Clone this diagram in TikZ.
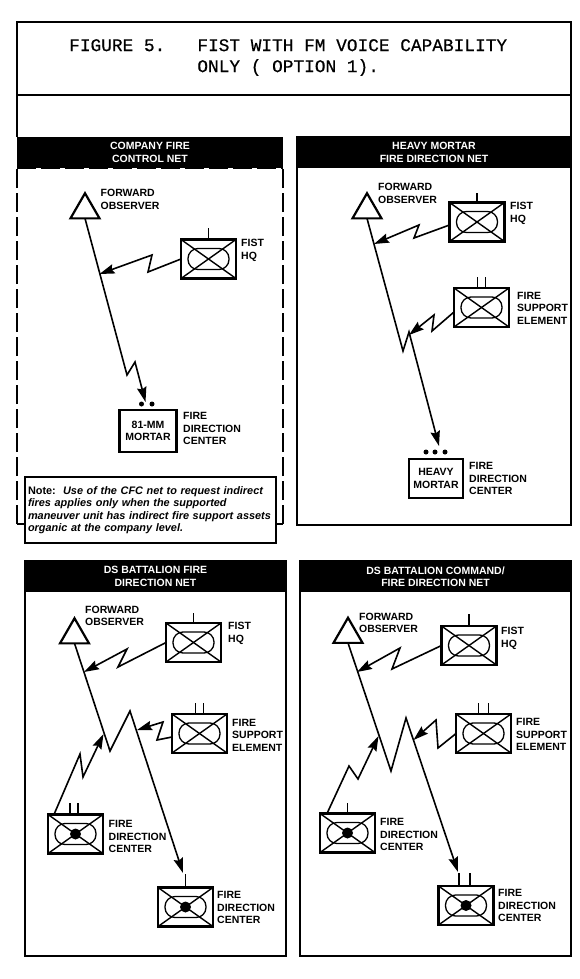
\documentclass[tikz,border=0pt]{standalone}
\usepackage{fontspec}
\setmainfont{Liberation Sans}
\newfontfamily\titlefont[FakeBold=0.5]{Liberation Mono}
\usepackage{tikz}
\usetikzlibrary{arrows.meta,positioning,shapes.geometric}
\newcommand{\UnitCross}{%
  \draw[line width=1.4pt] (path picture bounding box.south west) -- (path picture bounding box.north east);
  \draw[line width=1.4pt] (path picture bounding box.north west) -- (path picture bounding box.south east);
  \draw[line width=1.3pt, rounded corners=10pt] ([xshift=-20.5pt,yshift=-10.5pt]path picture bounding box.center) rectangle ([xshift=20.5pt,yshift=10.5pt]path picture bounding box.center);}

\begin{document}
\begin{tikzpicture}[
  x=1pt, y=-1pt,
  font=\fontsize{10.5}{12.5}\selectfont\bfseries,
  framed/.style={draw=black, line width=2pt, outer sep=0pt, inner sep=0pt, fill=white},
  panel/.style={framed, anchor=north west},
  header/.style={fill=black, text=white, align=center, outer sep=0pt, inner sep=0pt,
                 minimum height=31pt, anchor=north},
  sidedash/.style={line width=2pt, dash pattern=on 19pt off 5pt},
  observer/.style={draw=black, line width=2.2pt, regular polygon, regular polygon sides=3,
                   minimum size=33.5pt, inner sep=0pt, outer sep=0pt},
  unit/.style={framed, line width=2.4pt, minimum width=55pt, minimum height=39pt, path picture={\UnitCross}},
  fdcunit/.style={framed, line width=2.4pt, minimum width=55pt, minimum height=39pt,
                  path picture={\UnitCross \fill[black] (path picture bounding box.center) circle (5.5pt);}},
  mortar/.style={framed, line width=2.4pt, align=center},
  lbl/.style={anchor=west, align=left, inner sep=0pt},
  dotmark/.style={circle, fill=black, minimum size=5pt, inner sep=0pt},
  stub/.style={line width=1.7pt},
  radio/.style={-{Stealth[length=15pt,width=9.5pt,inset=2pt]}, line width=1.6pt, line join=miter}
]
  \useasboundingbox[fill=white] (0,0) rectangle (580,979);

  \node[framed, minimum width=554pt, minimum height=73pt, anchor=north west] (title) at (17,22) {};
  \node[lbl, font=\fontsize{17.8}{21}\selectfont\titlefont] (titletext) at (69,57.5)
    {FIGURE 5.\ \ \ FIST WITH FM VOICE CAPABILITY\\\phantom{FIGURE 5.\ \ \ }ONLY ( OPTION 1).};

  \node[anchor=north west, minimum width=266pt, minimum height=387pt, inner sep=0pt, outer sep=0pt] (net1) at (17,137) {};
  \node[panel, minimum width=274pt, minimum height=388pt] (net2) at (297,137) {};
  \node[panel, minimum width=261pt, minimum height=395pt] (net3) at (25,561) {};
  \node[panel, minimum width=271pt, minimum height=395pt] (net4) at (300,561) {};
  \draw[line width=2pt] (title.south west) -- (net1.north west);
  \draw[line width=2pt] (title.south east) -- (net2.north east);

  \node[header, minimum width=266pt] (head1) at (net1.north) {COMPANY FIRE\\CONTROL NET};
  \node[header, minimum width=274pt] (head2) at (net2.north) {HEAVY MORTAR\\FIRE DIRECTION NET};
  \node[header, minimum width=261pt] (head3) at (net3.north) {DS BATTALION FIRE\\DIRECTION NET};
  \node[header, minimum width=271pt] (head4) at (net4.north) {DS BATTALION COMMAND/\\FIRE DIRECTION NET};

  \draw[sidedash] (head1.south west) -- (head1.south east);
  \draw[sidedash] (net1.south west) -- (head1.south west);
  \draw[sidedash] (net1.south east) -- (head1.south east);
  \draw[line width=2pt] (net1.south west) -- (net1.south east);

  \node[observer] (fo1) at (85,210) {};
  \node[unit] (fist1) at (208.5,259) {};
  \node[mortar, minimum width=57pt, minimum height=42pt] (mort1) at (148,431) {81-MM\\MORTAR};
  \node[dotmark] (dot1a) at (141.5,404) {};
  \node[dotmark] (dot1b) at (152,404) {};
  \node[lbl] (fol1) at (100.5,199.5) {FORWARD\\OBSERVER};
  \node[lbl] (fisl1) at (241,250.5) {FIST\\HQ};
  \node[lbl] (fdcl1) at (183,428.5) {FIRE\\DIRECTION\\CENTER};
  \coordinate (tap1) at (99.5,274);
  \coordinate (hit1) at (145.5,402);
  \draw[stub] (fist1.north) -- ++(0,-12);
  \draw[radio] (fo1.side 2) -- (127,375) -- (135,362) -- (hit1);
  \draw[radio] (fist1.west) -- (148,272) -- (152,255) -- (tap1);

  \node[observer] (fo2) at (367,210) {};
  \node[unit] (fist2) at (477,222) {};
  \node[unit] (fse2) at (481.5,307.5) {};
  \node[mortar, minimum width=54pt, minimum height=39pt] (mort2) at (436,478.5) {HEAVY\\MORTAR};
  \node[dotmark] (dot2a) at (426,452) {};
  \node[dotmark] (dot2b) at (435,452) {};
  \node[dotmark] (dot2c) at (445,452) {};
  \node[lbl] (fol2) at (378,193.5) {FORWARD\\OBSERVER};
  \node[lbl] (fisl2) at (510,213.5) {FIST\\HQ};
  \node[lbl] (fsel2) at (517,308) {FIRE\\SUPPORT\\ELEMENT};
  \node[lbl] (fdcl2) at (469,478.5) {FIRE\\DIRECTION\\CENTER};
  \coordinate (tap2a) at (374,244);
  \coordinate (tap2b) at (409,335);
  \coordinate (hit2) at (439,446);
  \draw[stub] (fist2.north) -- ++(0,-10);
  \draw[stub] ([xshift=-4pt]fse2.north) -- ++(0,-11);
  \draw[stub] ([xshift=4pt]fse2.north) -- ++(0,-11);
  \draw[radio] (fo2.side 2) -- (403,351) -- (409,332) -- (hit2);
  \draw[radio] ([yshift=-3pt]fist2.west) -- (414,238) -- (419,225) -- (tap2a);
  \draw[radio] ([yshift=-4.5pt]fse2.west) -- (432,331) -- (434,315) -- (tap2b);

  \node[observer] (fo3) at (74.5,635) {};
  \node[unit] (fist3) at (193.5,642.5) {};
  \node[unit] (fse3) at (199.5,733.5) {};
  \node[fdcunit] (fdc3a) at (75.5,834) {};
  \node[fdcunit] (fdc3b) at (185.5,907) {};
  \node[lbl] (fol3) at (85,616) {FORWARD\\OBSERVER};
  \node[lbl] (fisl3) at (228,633.5) {FIST\\HQ};
  \node[lbl] (fsel3) at (232,735) {FIRE\\SUPPORT\\ELEMENT};
  \node[lbl] (fdcl3a) at (108.5,836.5) {FIRE\\DIRECTION\\CENTER};
  \node[lbl] (fdcl3b) at (217,907.5) {FIRE\\DIRECTION\\CENTER};
  \coordinate (tap3a) at (84,672);
  \coordinate (tap3b) at (137,730);
  \coordinate (tap3c) at (103.5,734);
  \coordinate (hit3) at (183,873);
  \draw[stub] (fist3.north) -- ++(0,-10);
  \draw[stub] ([xshift=-4pt]fse3.north) -- ++(0,-11);
  \draw[stub] ([xshift=4pt]fse3.north) -- ++(0,-11);
  \draw[stub] ([xshift=-5.5pt]fdc3a.north) -- ++(0,-12);
  \draw[stub] ([xshift=2.5pt]fdc3a.north) -- ++(0,-12);
  \draw[stub] (fdc3b.north) -- ++(0,-14);
  \draw[radio] (fo3.side 2) -- (110,751) -- (130,711) -- (hit3);
  \draw[radio] (fist3.west) -- (118,667) -- (127,649) -- (tap3a);
  \draw[radio] ([yshift=-3.5pt]fse3.west) -- (157,740) -- (163,722) -- (tap3b);
  \draw[radio] ([xshift=6pt]fdc3a.north west) -- (80,754) -- (83,777) -- (tap3c);

  \node[observer] (fo4) at (348,634.5) {};
  \node[unit] (fist4) at (469,645.5) {};
  \node[unit] (fse4) at (483.5,733.5) {};
  \node[fdcunit] (fdc4a) at (347.5,833) {};
  \node[fdcunit] (fdc4b) at (466,905.5) {};
  \node[lbl] (fol4) at (359,623) {FORWARD\\OBSERVER};
  \node[lbl] (fisl4) at (501,638.5) {FIST\\HQ};
  \node[lbl] (fsel4) at (516,734.5) {FIRE\\SUPPORT\\ELEMENT};
  \node[lbl] (fdcl4a) at (380,834.5) {FIRE\\DIRECTION\\CENTER};
  \node[lbl] (fdcl4b) at (498,905.5) {FIRE\\DIRECTION\\CENTER};
  \coordinate (tap4a) at (357,672);
  \coordinate (tap4b) at (413.5,740);
  \coordinate (tap4c) at (378.5,736);
  \coordinate (hit4) at (458,872);
  \draw[stub] (fist4.north) -- ++(0,-12);
  \draw[stub] ([xshift=-5pt]fse4.north) -- ++(0,-11);
  \draw[stub] ([xshift=5pt]fse4.north) -- ++(0,-11);
  \draw[stub] (fdc4a.north) -- ++(0,-11);
  \draw[stub] ([xshift=-7pt]fdc4b.north) -- ++(0,-13);
  \draw[stub] ([xshift=4pt]fdc4b.north) -- ++(0,-13);
  \draw[radio] (fo4.side 2) -- (391,771) -- (406,718) -- (hit4);
  \draw[radio] (fist4.west) -- (392,669) -- (400,648) -- (tap4a);
  \draw[radio] (fse4.west) -- (438,748) -- (436,720) -- (tap4b);
  \draw[radio] ([xshift=7pt]fdc4a.north west) -- (349,766) -- (358,779) -- (tap4c);

  \node[framed, anchor=north west, minimum height=66pt, align=left, inner xsep=3pt, text width=245pt,
        font=\fontsize{10.9}{12.5}\selectfont\bfseries\itshape] (note) at (25,477)
    {{\upshape Note:}\ \ Use of the CFC net to request indirect\\fires applies only when the supported\\maneuver unit has indirect fire support assets\\organic at the company level.};
\end{tikzpicture}
\end{document}
